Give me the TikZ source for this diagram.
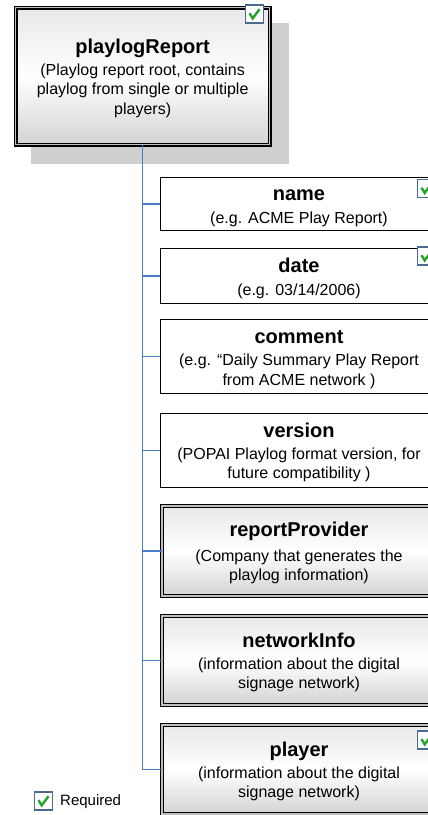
\documentclass[tikz,border=0pt]{standalone}
\usepackage{fontspec}
\setmainfont{Liberation Sans}
\usetikzlibrary{calc}
\definecolor{connblue}{HTML}{4A7CC8}
\definecolor{chkframe}{HTML}{4A6B8F}
\definecolor{chkgreen}{HTML}{22A32A}
\definecolor{shadowgray}{HTML}{CFCFCF}
\newcommand\boxtitle[1]{{\fontsize{20}{22}\selectfont\bfseries\rule{0pt}{19pt}#1}}
\begin{document}
\begin{tikzpicture}[x=1pt,y=-1pt,
  txt/.style={font=\fontsize{16}{19.5}\selectfont, align=center, inner sep=0pt},
  plainbox/.style={txt, draw=black, line width=1pt, fill=white, minimum width=277pt, anchor=north west},
  fancybox/.style={txt, draw=black, line width=1pt, double=white!75!black, double distance=1.2pt,
     top color=black!9, bottom color=black!17, middle color=white, minimum width=274pt, anchor=north west},
  conn/.style={draw=connblue, line width=1.4pt},
  chk/.style={draw=chkframe, line width=1.1pt, fill=white, minimum size=18pt, inner sep=0pt,
     path picture={\draw[chkgreen, line width=2.4pt]
       ([shift={(-5pt,0.8pt)}]path picture bounding box.center) --
       ([shift={(-1.8pt,-4.4pt)}]path picture bounding box.center) --
       ([shift={(5pt,4.8pt)}]path picture bounding box.center);}},
]
\useasboundingbox (0,0) rectangle (428,815);
\clip (0,0) rectangle (428,815);
\fill[white] (0,0) rectangle (428,815);

% root
\fill[shadowgray] (31,23) rectangle (289,164);
\node[fancybox, minimum width=254pt, minimum height=137pt, line width=1.3pt] (root) at (15,7)
  {\boxtitle{playlogReport}\\[2pt] (Playlog report root, contains\\playlog from single or multiple\\players)};
\node[chk] (rootchk) at (254.5,14) {};

% children
\node[plainbox, minimum height=53pt] (name) at (160,177)
  {\boxtitle{name}\\[3pt](e.g. ACME Play Report)};
\node[plainbox, minimum height=55pt] (date) at (160,248)
  {\boxtitle{date}\\[3pt](e.g. 03/14/2006)};
\node[plainbox, minimum height=74pt] (comment) at (160,319)
  {\boxtitle{comment}\\[3pt](e.g. “Daily Summary Play Report\\from ACME network )};
\node[plainbox, minimum height=74pt] (version) at (160,413)
  {\boxtitle{version}\\[2pt](POPAI Playlog format version, for\\future compatibility )};
\node[fancybox, minimum height=90pt] (provider) at (161.5,505.5)
  {\boxtitle{reportProvider}\\[5pt](Company that generates the\\playlog information)};
\node[fancybox, minimum height=89pt] (network) at (161.5,615.5)
  {\boxtitle{networkInfo}\\[2pt](information about the digital\\signage network)};
\node[fancybox, minimum height=89pt] (player) at (161.5,724.5)
  {\boxtitle{player}\\[2pt](information about the digital\\signage network)};

\node[chk] (namechk) at (426.5,188.5) {};
\node[chk] (datechk) at (426.5,256) {};
\node[chk] (playerchk) at (426.5,740) {};

% connectors
\draw[conn] (root.south) |- (player.west);
\foreach \n in {name,date,comment,version,provider,network}
  \draw[conn] (root.south |- \n.west) -- (\n.west);

% legend
\node[chk] (legchk) at (43.5,801) {};
\node[anchor=west, font=\fontsize{15}{18}\selectfont, inner sep=0pt] (legtxt) at (60,802) {Required};
\end{tikzpicture}
\end{document}
